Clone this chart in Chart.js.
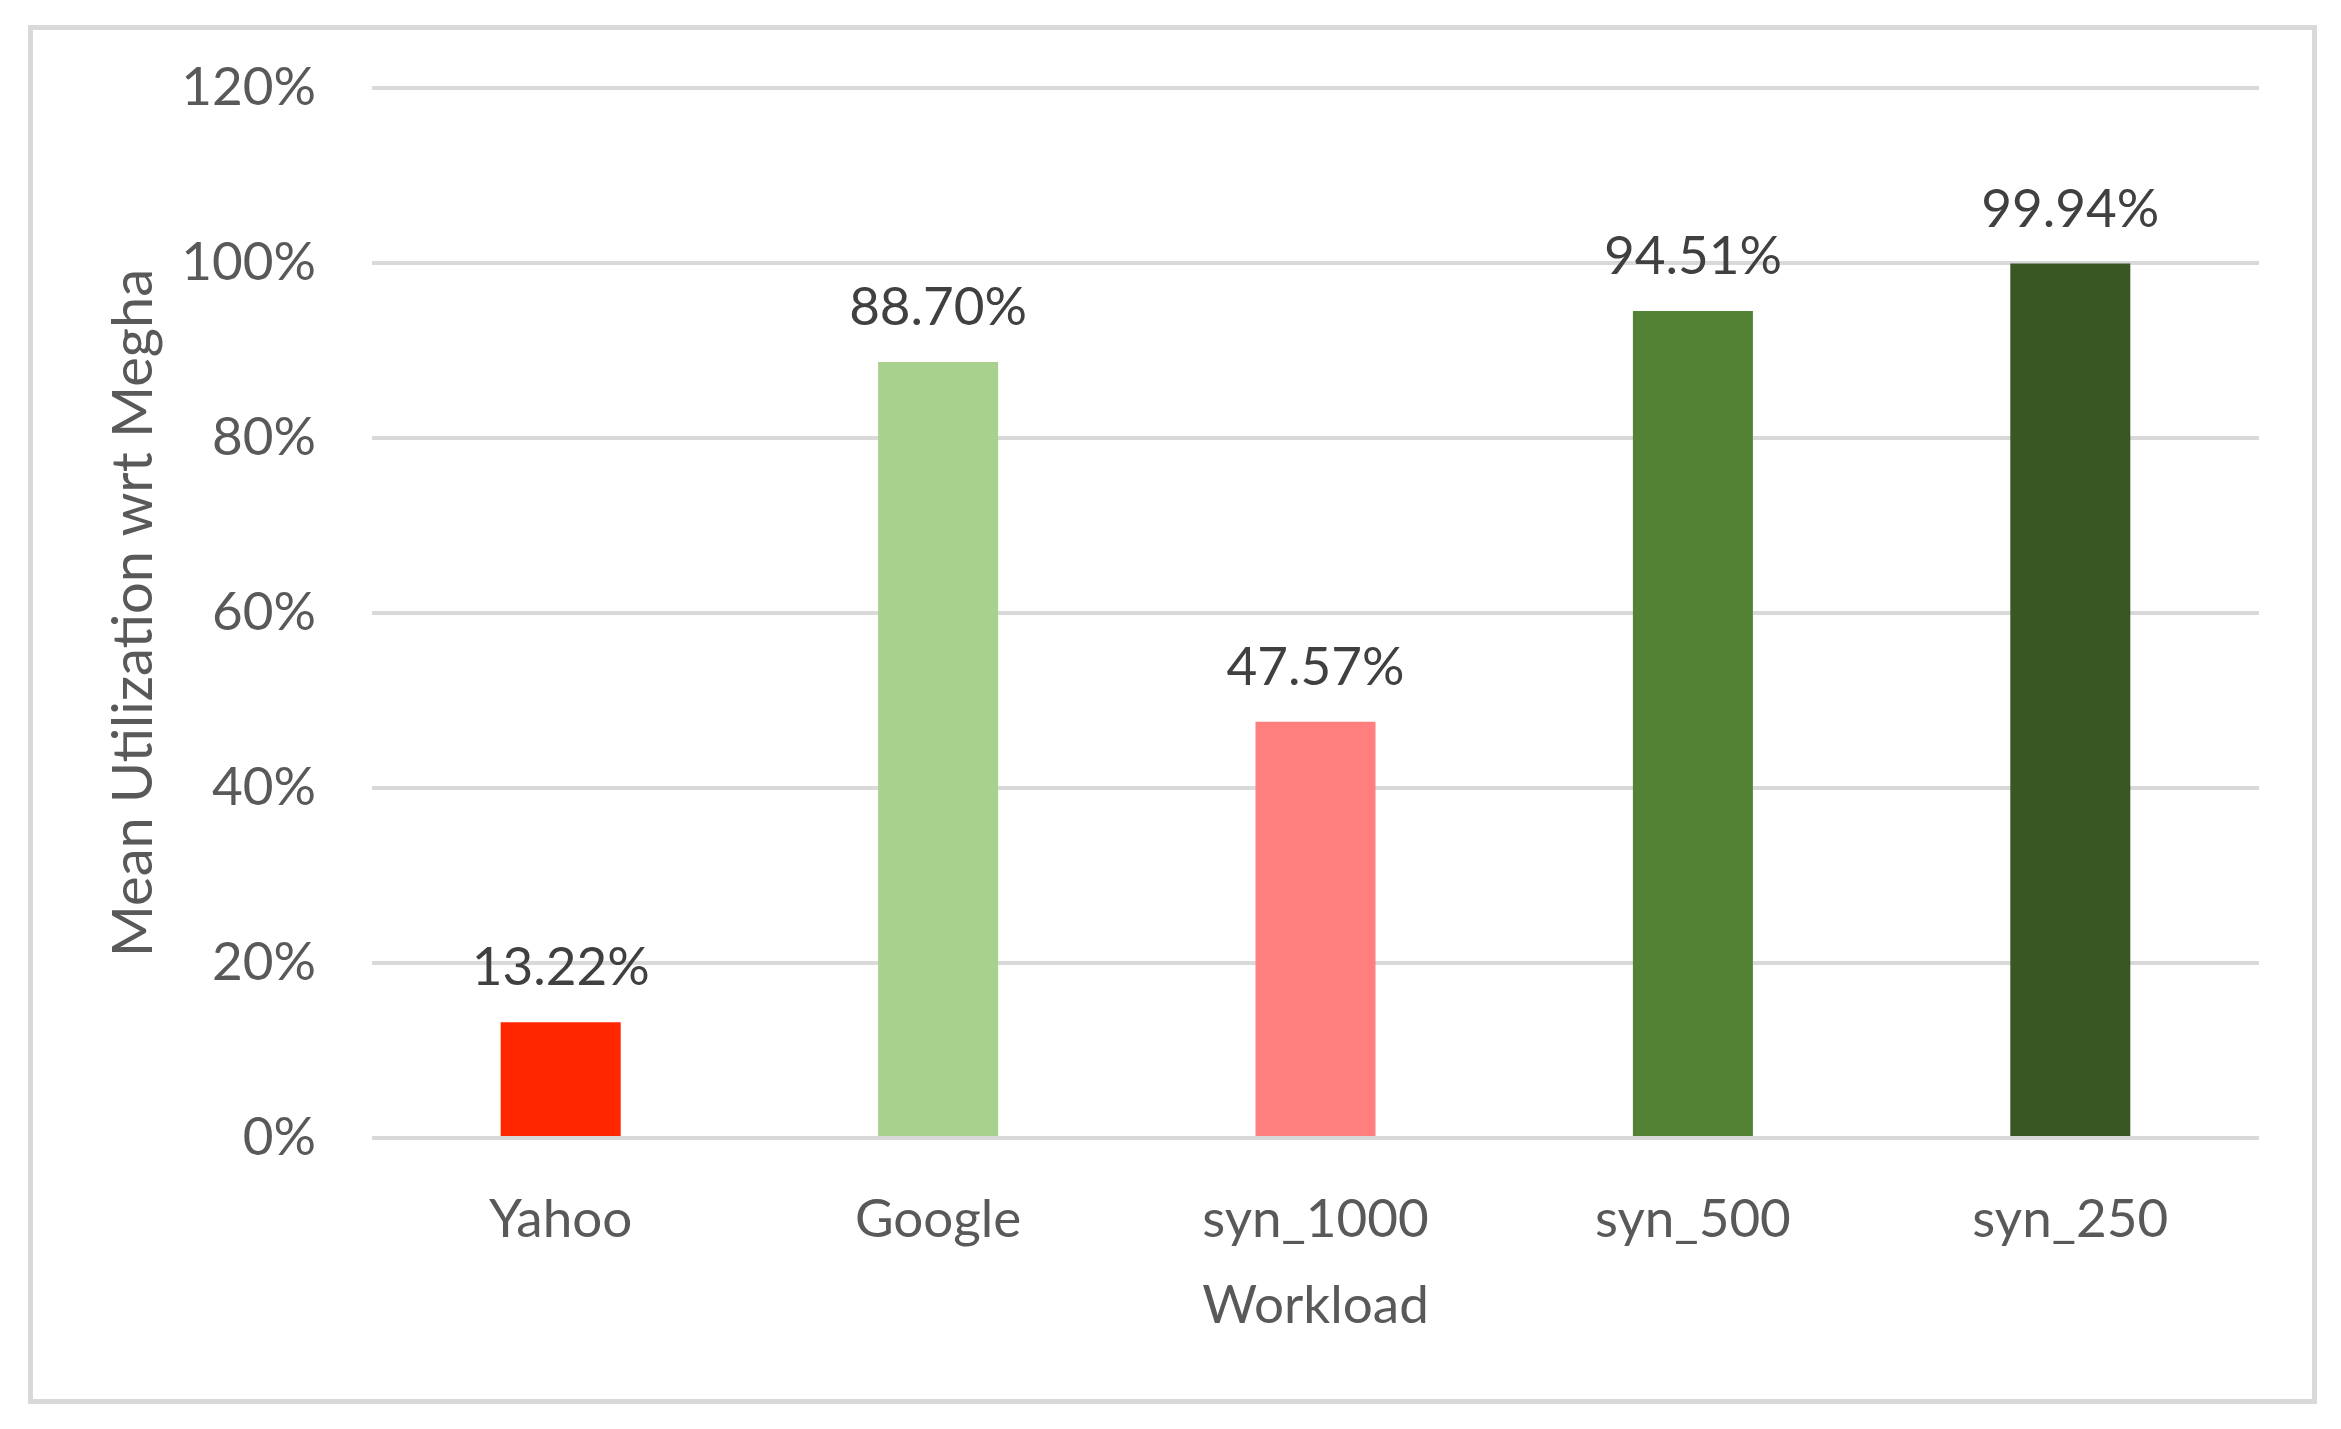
<!DOCTYPE html>
<html>
<head>
<meta charset="utf-8">
<script src="https://cdn.jsdelivr.net/npm/chart.js@4"></script>
<style>
  html, body { margin: 0; padding: 0; background: #fff; }
  #wrap { width: 2341px; height: 1429px; position: relative; }
</style>
</head>
<body>
<div id="wrap"><canvas id="myChart" width="2341" height="1429"></canvas></div>
<script>
var xValues = ["Yahoo", "Google", "syn_1000", "syn_500", "syn_250"];
var yValues = [0.1322, 0.887, 0.4757, 0.9451, 0.9994];
var barLabels = ["13.22%", "88.70%", "47.57%", "94.51%", "99.94%"];
var barColors = ["#FF2600", "#A9D18E", "#FF7F7F", "#548235", "#385723"];
var yTicks = ["0%", "20%", "40%", "60%", "80%", "100%", "120%"];

var fontFam = "Lato, 'Liberation Sans', sans-serif";

// outer frame like the office chart border
var framePlugin = {
  id: "frame",
  beforeDraw: function (chart) {
    var ctx = chart.ctx;
    ctx.save();
    ctx.fillStyle = "#fff";
    ctx.fillRect(0, 0, chart.width, chart.height);
    ctx.strokeStyle = "#D9D9D9";
    ctx.lineWidth = 5;
    ctx.strokeRect(30.5, 27.5, 2284, 1374);
    ctx.restore();
  },
};

// value labels above the bars
var labelPlugin = {
  id: "barValues",
  afterDatasetsDraw: function (chart) {
    var ctx = chart.ctx;
    var meta = chart.getDatasetMeta(0);
    ctx.save();
    ctx.font = "53px " + fontFam;
    ctx.fillStyle = "#404040";
    ctx.textAlign = "center";
    ctx.textBaseline = "alphabetic";
    meta.data.forEach(function (bar, i) {
      ctx.fillText(barLabels[i], bar.x, bar.y - 37);
    });
    ctx.restore();
  },
};

new Chart("myChart", {
  type: "bar",
  data: {
    labels: xValues,
    datasets: [
      {
        backgroundColor: barColors,
        data: yValues,
        barPercentage: 0.318,
        categoryPercentage: 1,
      },
    ],
  },
  plugins: [framePlugin, labelPlugin],
  options: {
    responsive: false,
    animation: false,
    layout: {
      padding: { left: 100, right: 82, top: 88, bottom: 91 },
    },
    plugins: {
      legend: { display: false },
      tooltip: { enabled: false },
    },
    scales: {
      x: {
        grid: { display: false },
        border: { display: false },
        ticks: {
          color: "#595959",
          padding: 42,
          font: { family: fontFam, size: 53 },
        },
        title: {
          display: true,
          text: "Workload",
          color: "#595959",
          padding: 0,
          font: { family: fontFam, size: 53 },
        },
        afterFit: function (scale) {
          scale.height = 200;
        },
      },
      y: {
        min: 0,
        max: 1.2,
        grid: { color: "#D9D9D9", lineWidth: 4, drawTicks: false },
        border: { display: false },
        ticks: {
          stepSize: 0.2,
          color: "#595959",
          padding: 56,
          font: { family: fontFam, size: 53 },
          callback: function (v, i) {
            return yTicks[i];
          },
        },
        title: {
          display: true,
          text: "Mean Utilization wrt Megha",
          color: "#595959",
          padding: 0,
          font: { family: fontFam, size: 56 },
        },
        afterFit: function (scale) {
          scale.width = 272;
        },
      },
    },
  },
});
</script>
</body>
</html>
